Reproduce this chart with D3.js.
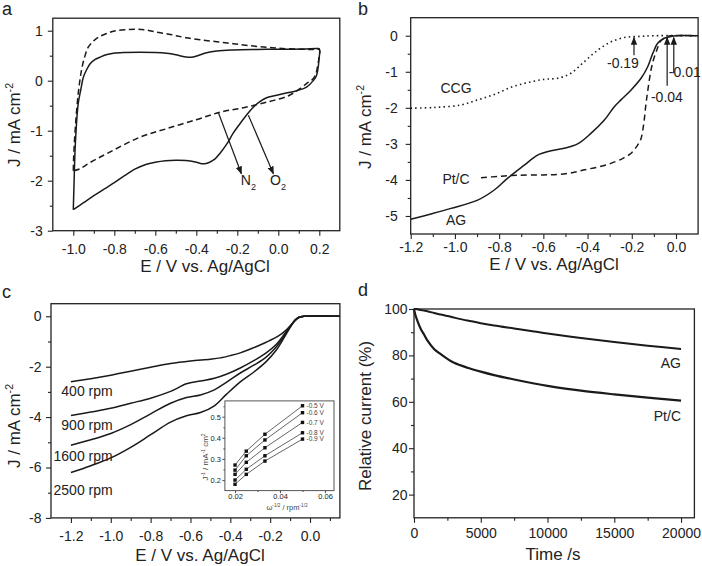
<!DOCTYPE html>
<html><head><meta charset="utf-8">
<script src="https://cdn.jsdelivr.net/npm/d3@7"></script>
<style>
body{margin:0;background:#fff}
svg{display:block}
text{font-family:"Liberation Sans",Arial,Helvetica,sans-serif;fill:#222}
</style>
</head><body>
<svg id="c" width="702" height="566"></svg>
<script>
// ---------- Panel a : cyclic voltammograms ----------
const aTicksX = [-1.0,-0.8,-0.6,-0.4,-0.2,0.0,0.2];
const aMinorX = [-0.9,-0.7,-0.5,-0.3,-0.1,0.1];
const aTicksY = [-3,-2,-1,0,1];
const aMinorY = [-2.5,-1.5,-0.5,0.5];
const cvO2 = [[-1.0,-2.58],[-0.996,-2.0],[-0.99,-1.26],[-0.976,-0.46],[-0.962,-0.15],[-0.951,0.07],[-0.935,0.22],[-0.918,0.34],[-0.895,0.42],[-0.87,0.47],[-0.84,0.52],[-0.805,0.55],[-0.75,0.565],[-0.675,0.57],[-0.6,0.565],[-0.545,0.55],[-0.5,0.52],[-0.47,0.49],[-0.44,0.47],[-0.41,0.48],[-0.38,0.52],[-0.35,0.56],[-0.3,0.595],[-0.22,0.615],[-0.1,0.625],[0.02,0.63],[0.12,0.635],[0.19,0.645],[0.2,0.64],[0.198,0.4],[0.192,0.2],[0.185,0.09],[0.17,0.0],[0.138,-0.13],[0.09,-0.2],[0.024,-0.26],[-0.02,-0.3],[-0.057,-0.34],[-0.09,-0.42],[-0.122,-0.53],[-0.15,-0.66],[-0.187,-0.86],[-0.22,-1.05],[-0.25,-1.26],[-0.284,-1.45],[-0.31,-1.57],[-0.335,-1.63],[-0.358,-1.66],[-0.38,-1.655],[-0.41,-1.62],[-0.45,-1.595],[-0.5,-1.59],[-0.55,-1.6],[-0.6,-1.63],[-0.65,-1.68],[-0.7,-1.77],[-0.75,-1.9],[-0.8,-2.04],[-0.85,-2.17],[-0.9,-2.3],[-0.95,-2.44],[-1.0,-2.58]];
const cvN2 = [[-1.0,-1.8],[-0.998,-1.5],[-0.99,-0.93],[-0.976,-0.26],[-0.96,0.21],[-0.945,0.47],[-0.927,0.67],[-0.9,0.8],[-0.878,0.87],[-0.84,0.94],[-0.805,0.99],[-0.75,1.02],[-0.69,1.03],[-0.64,1.01],[-0.593,0.97],[-0.545,0.94],[-0.5,0.9],[-0.45,0.86],[-0.382,0.82],[-0.3,0.78],[-0.22,0.74],[-0.14,0.7],[-0.057,0.67],[0.02,0.645],[0.1,0.63],[0.16,0.625],[0.2,0.62],[0.198,0.45],[0.19,0.25],[0.18,0.1],[0.165,0.02],[0.14,-0.05],[0.106,-0.16],[0.05,-0.3],[-0.057,-0.43],[-0.17,-0.54],[-0.284,-0.63],[-0.4,-0.78],[-0.545,-0.96],[-0.675,-1.13],[-0.837,-1.46],[-0.92,-1.64],[-0.967,-1.76],[-1.0,-1.8]];
const aArrows = [
  {from:[-0.293,-0.63], to:[-0.18,-1.86], label:"N", sub:"2", at:[-0.183,-2.09]},
  {from:[-0.146,-0.69], to:[-0.024,-1.86], label:"O", sub:"2", at:[-0.04,-2.09]}
];

// ---------- Panel b : LSV curves ----------
const bTicksX = [-1.2,-1.0,-0.8,-0.6,-0.4,-0.2,0.0];
const bMinorX = [-1.1,-0.9,-0.7,-0.5,-0.3,-0.1];
const bTicksY = [-5,-4,-3,-2,-1,0];
const bMinorY = [-4.5,-3.5,-2.5,-1.5,-0.5];
const lsvCCG = [[-1.2,-2.01],[-1.093,-1.99],[-0.972,-1.92],[-0.897,-1.78],[-0.822,-1.63],[-0.746,-1.43],[-0.671,-1.30],[-0.596,-1.21],[-0.535,-1.18],[-0.475,-1.04],[-0.415,-0.72],[-0.354,-0.40],[-0.294,-0.17],[-0.234,-0.05],[-0.17,-0.02],[-0.1,0],[0.1,0]];
const lsvPtC = [[-0.882,-3.94],[-0.8,-3.9],[-0.716,-3.87],[-0.6,-3.86],[-0.535,-3.85],[-0.47,-3.8],[-0.415,-3.72],[-0.35,-3.64],[-0.294,-3.54],[-0.24,-3.4],[-0.203,-3.26],[-0.175,-3.05],[-0.158,-2.85],[-0.145,-2.4],[-0.136,-1.9],[-0.125,-1.41],[-0.113,-0.95],[-0.102,-0.67],[-0.087,-0.40],[-0.072,-0.17],[-0.055,-0.07],[-0.04,-0.02],[-0.02,0],[0.1,0]];
const lsvAG = [[-1.2,-5.09],[-1.1,-4.93],[-1.018,-4.79],[-0.897,-4.56],[-0.822,-4.28],[-0.761,-3.95],[-0.686,-3.59],[-0.626,-3.31],[-0.565,-3.19],[-0.505,-3.12],[-0.445,-3.0],[-0.385,-2.71],[-0.324,-2.34],[-0.279,-1.97],[-0.249,-1.78],[-0.204,-1.51],[-0.158,-1.18],[-0.128,-0.86],[-0.105,-0.49],[-0.083,-0.21],[-0.053,-0.07],[-0.023,-0.02],[0.0,0],[0.1,0]];
const onsetE = [-0.19,-0.04,-0.01];
const onsetFromJ = [-0.54,-1.39,-1.04];
const onsetLabels = ["-0.19","-0.04","-0.01"];
const onsetLabelAt = [[-0.24,-0.9],[-0.041,-1.83],[0.04,-1.14]];
const bSeriesLabels = ["CCG","Pt/C","AG"];
const bLabelAt = [[-0.995,-1.6],[-0.995,-4.1],[-0.995,-5.25]];

// ---------- Panel c : rotating-disk LSV ----------
const cTicksX = [-1.2,-1.0,-0.8,-0.6,-0.4,-0.2,0.0];
const cMinorX = [-1.1,-0.9,-0.7,-0.5,-0.3,-0.1,0.1];
const cTicksY = [-8,-6,-4,-2,0];
const cMinorY = [-7,-5,-3,-1];
const rpm400 = [[-1.2,-2.6],[-1.1,-2.48],[-1.0,-2.34],[-0.9,-2.18],[-0.8,-2.02],[-0.7,-1.87],[-0.6,-1.77],[-0.5,-1.7],[-0.45,-1.65],[-0.4,-1.56],[-0.35,-1.45],[-0.29,-1.27],[-0.22,-1.03],[-0.16,-0.79],[-0.12,-0.55],[-0.09,-0.3],[-0.065,-0.1],[-0.045,-0.02],[-0.02,0],[0.15,0]];
const rpm900 = [[-1.2,-3.94],[-1.1,-3.8],[-1.0,-3.65],[-0.9,-3.45],[-0.8,-3.25],[-0.7,-2.98],[-0.62,-2.68],[-0.55,-2.57],[-0.48,-2.46],[-0.42,-2.3],[-0.35,-2.05],[-0.28,-1.75],[-0.22,-1.45],[-0.17,-1.12],[-0.13,-0.72],[-0.1,-0.4],[-0.075,-0.15],[-0.055,-0.04],[-0.03,0],[0.15,0]];
const rpm1600 = [[-1.2,-5.12],[-1.1,-4.9],[-1.0,-4.65],[-0.9,-4.3],[-0.8,-3.87],[-0.7,-3.45],[-0.62,-3.22],[-0.55,-3.12],[-0.48,-2.92],[-0.42,-2.62],[-0.35,-2.25],[-0.28,-1.93],[-0.22,-1.62],[-0.17,-1.22],[-0.13,-0.78],[-0.1,-0.42],[-0.075,-0.15],[-0.055,-0.04],[-0.03,0],[0.15,0]];
const rpm2500 = [[-1.2,-6.2],[-1.1,-5.93],[-1.0,-5.62],[-0.9,-5.2],[-0.8,-4.7],[-0.7,-4.2],[-0.62,-3.95],[-0.55,-3.82],[-0.48,-3.55],[-0.42,-3.1],[-0.35,-2.6],[-0.28,-2.2],[-0.22,-1.8],[-0.17,-1.35],[-0.13,-0.85],[-0.1,-0.45],[-0.075,-0.16],[-0.055,-0.04],[-0.03,0],[0.15,0]];
const rpmLabels = ["400 rpm","900 rpm","1600 rpm","2500 rpm"];
const rpmLabelJ = [-3.15,-4.53,-5.73,-7.1];
// inset: Koutecky-Levich
const klTicksX = [0.02,0.04,0.06];
const klMinorX = [0.03,0.05];
const klTicksY = [0.2,0.3,0.4,0.5];
const klMinorY = [0.25,0.35,0.45,0.55];
const klW = [0.02,0.025,0.0333,0.05];
const kl05 = [0.271,0.337,0.417,0.552];
const kl06 = [0.247,0.315,0.390,0.519];
const kl07 = [0.227,0.284,0.353,0.473];
const kl08 = [0.200,0.251,0.315,0.424];
const kl09 = [0.180,0.227,0.290,0.394];
const klLabels = ["-0.5 V","-0.6 V","-0.7 V","-0.8 V","-0.9 V"];

// ---------- Panel d : chronoamperometry ----------
const dTicksX = [0,5000,10000,15000,20000];
const dMinorX = [2500,7500,12500,17500];
const dTicksY = [20,40,60,80,100];
const dMinorY = [30,50,70,90];
const timeS = [0,100,250,500,750,1000,1500,2000,2500,3000,4000,5000,6000,7500,9000,10000,12500,15000,17500,20000];
const relPtC = [100,97.5,95,91.5,89,86.5,82.8,80.5,78.5,76.8,74.7,73,71.5,69.6,67.9,66.9,64.8,63.2,61.8,60.5];
const relAG  = [100,100,99.9,99.6,99.3,99,98.3,97.6,97,96.3,95,93.9,92.9,91.6,90.3,89.4,87.5,85.8,84.2,82.8];

// ================= drawing =================
const svg = d3.select("#c");
const FONT = '"Liberation Sans", Arial, Helvetica, sans-serif';
const INK = "#1a1a1a";

const defs = svg.append("defs");
defs.append("marker").attr("id","arr").attr("viewBox","0 0 10 10")
  .attr("refX",9).attr("refY",5).attr("markerWidth",8).attr("markerHeight",8)
  .attr("markerUnits","userSpaceOnUse").attr("orient","auto")
  .append("path").attr("d","M0,1 L10,5 L0,9 Z").attr("fill",INK);

function styleAxis(sel, fs, col){
  sel.attr("font-size",fs).attr("font-family",FONT).attr("color",col||"#222");
  sel.select(".domain").remove();
  sel.selectAll("line").attr("stroke-width",1.1);
}

function rich(parent, parts, fs){
  let shift = 0;
  parts.forEach(p=>{
    const [t,k] = p;
    const ts = parent.append("tspan").text(t);
    let target = 0, size = fs;
    if(k==="sup"){ target = -0.42*fs; size = 0.62*fs; }
    if(k==="sub"){ target = 0.32*fs; size = 0.65*fs; }
    const dy = target - shift;
    if(dy!==0) ts.attr("dy",dy);
    ts.attr("font-size",size);
    shift = target;
  });
}

function panel(o){
  const x = d3.scaleLinear().domain(o.xd).range(o.xr);
  const y = d3.scaleLinear().domain(o.yd).range(o.yr);
  const g = svg.append("g");
  const by = o.yr[0], lx = o.xr[0];
  g.append("g").attr("transform",`translate(0,${by})`)
    .call(d3.axisBottom(x).tickValues(o.xMajor).tickSize(o.tk||5).tickPadding(o.xPad).tickFormat(o.fx))
    .call(styleAxis,o.fs,o.col);
  g.append("g").attr("transform",`translate(0,${by})`)
    .call(d3.axisBottom(x).tickValues(o.xMinor).tickSize(o.tkm||3).tickFormat(()=>""))
    .call(styleAxis,o.fs,o.col);
  g.append("g").attr("transform",`translate(${lx},0)`)
    .call(d3.axisLeft(y).tickValues(o.yMajor).tickSize(o.tk||5).tickPadding(o.yPad).tickFormat(o.fy))
    .call(styleAxis,o.fs,o.col);
  g.append("g").attr("transform",`translate(${lx},0)`)
    .call(d3.axisLeft(y).tickValues(o.yMinor).tickSize(o.tkm||3).tickFormat(()=>""))
    .call(styleAxis,o.fs,o.col);
  g.append("rect").attr("x",o.xr[0]).attr("y",o.yr[1])
    .attr("width",o.xr[1]-o.xr[0]).attr("height",o.yr[0]-o.yr[1])
    .attr("fill","none").attr("stroke",o.col||"#222").attr("stroke-width",o.fw||1.3);
  return {x,y,g};
}

const f1 = d=>d.toFixed(1);
const f0 = d=>String(d);
const line = (x,y)=>d3.line().x(d=>x(d[0])).y(d=>y(d[1])).curve(d3.curveCatmullRom.alpha(0.5));

function yTitle(cx, cy, parts, fs){
  const t = svg.append("text").attr("transform",`translate(${cx},${cy}) rotate(-90)`)
    .attr("text-anchor","middle").attr("font-size",fs);
  rich(t, parts, fs);
}
function xTitle(cx, by, str, fs){
  svg.append("text").attr("x",cx).attr("y",by).attr("text-anchor","middle").attr("font-size",fs).text(str);
}
function letter(x,y,s){
  svg.append("text").attr("x",x).attr("y",y).attr("font-size",18).text(s);
}
const TF = 17;

// ---- Panel a ----
{
  const P = panel({xd:[-1.1,0.3], xr:[52.8,339.8], yd:[-3,1.25], yr:[230.7,18.2],
    xMajor:aTicksX, xMinor:aMinorX, yMajor:aTicksY, yMinor:aMinorY,
    fx:f1, fy:f0, xPad:8, yPad:5, fs:14});
  const {x,y,g} = P;
  g.append("path").attr("d",line(x,y)(cvN2)).attr("fill","none").attr("stroke",INK)
    .attr("stroke-width",1.5).attr("stroke-dasharray","6,3.5");
  g.append("path").attr("d",line(x,y)(cvO2)).attr("fill","none").attr("stroke",INK)
    .attr("stroke-width",1.5);
  aArrows.forEach(a=>{
    g.append("line").attr("x1",x(a.from[0])).attr("y1",y(a.from[1]))
      .attr("x2",x(a.to[0])).attr("y2",y(a.to[1]))
      .attr("stroke",INK).attr("stroke-width",1.2).attr("marker-end","url(#arr)");
    const t = g.append("text").attr("x",x(a.at[0])).attr("y",y(a.at[1])).attr("font-size",14);
    rich(t,[[a.label],[a.sub,"sub"]],14);
  });
  letter(2,15,"a");
  xTitle(205,271.5,"E / V vs. Ag/AgCl",TF);
  yTitle(20,125,[["J / mA cm"],["-2","sup"]],TF);
}

// ---- Panel b ----
{
  const P = panel({xd:[-1.2,0.1], xr:[410.7,698.1], yd:[-5.5,0.5], yr:[234,17.7],
    xMajor:bTicksX, xMinor:bMinorX, yMajor:bTicksY, yMinor:bMinorY,
    fx:f1, fy:f0, xPad:3, yPad:8, fs:14});
  const {x,y,g} = P;
  g.append("path").attr("d",line(x,y)(lsvCCG)).attr("fill","none").attr("stroke",INK)
    .attr("stroke-width",1.6).attr("stroke-dasharray","1.5,3.2");
  g.append("path").attr("d",line(x,y)(lsvPtC)).attr("fill","none").attr("stroke",INK)
    .attr("stroke-width",1.5).attr("stroke-dasharray","6,4");
  g.append("path").attr("d",line(x,y)(lsvAG)).attr("fill","none").attr("stroke",INK)
    .attr("stroke-width",1.5);
  onsetE.forEach((e,i)=>{
    g.append("line").attr("x1",x(e)).attr("x2",x(e)).attr("y1",y(onsetFromJ[i])).attr("y2",y(-0.05))
      .attr("stroke",INK).attr("stroke-width",1.2).attr("marker-end","url(#arr)");
    g.append("text").attr("x",x(onsetLabelAt[i][0])).attr("y",y(onsetLabelAt[i][1]))
      .attr("text-anchor","middle").attr("font-size",14).text(onsetLabels[i]);
  });
  bSeriesLabels.forEach((s,i)=>{
    g.append("text").attr("x",x(bLabelAt[i][0])).attr("y",y(bLabelAt[i][1]))
      .attr("text-anchor","middle").attr("font-size",14).text(s);
  });
  letter(358,15,"b");
  xTitle(554,270,"E / V vs. Ag/AgCl",TF);
  yTitle(371,127,[["J / mA cm"],["-2","sup"]],TF);
}

// ---- Panel c ----
{
  const P = panel({xd:[-1.3,0.15], xr:[51,339.9], yd:[-8,0.5], yr:[517.9,303.7],
    xMajor:cTicksX, xMinor:cMinorX, yMajor:cTicksY, yMinor:cMinorY,
    fx:f1, fy:f0, xPad:8, yPad:4.5, fs:14});
  const {x,y,g} = P;
  [rpm400,rpm900,rpm1600,rpm2500].forEach(s=>{
    g.append("path").attr("d",line(x,y)(s)).attr("fill","none").attr("stroke",INK).attr("stroke-width",1.5);
  });
  rpmLabels.forEach((s,i)=>{
    g.append("text").attr("x",112.7).attr("y",y(rpmLabelJ[i])).attr("text-anchor","end")
      .attr("font-size",14).text(s);
  });
  // inset
  svg.append("rect").attr("x",224.9).attr("y",400.9).attr("width",109.1).attr("height",89.7).attr("fill","#fff");
  const I = panel({xd:[0.0155,0.064], xr:[224.9,334], yd:[0.15,0.575], yr:[490.6,400.9],
    xMajor:klTicksX, xMinor:klMinorX, yMajor:klTicksY, yMinor:klMinorY,
    fx:d=>d.toFixed(2), fy:f1, xPad:0.5, yPad:1.5, fs:7.5, col:"#555", tk:2.5, tkm:1.5, fw:1});
  const ix = I.x, iy = I.y, ig = I.g;
  [kl05,kl06,kl07,kl08,kl09].forEach((s,i)=>{
    const pts = klW.map((w,j)=>[w,s[j]]);
    ig.append("path").attr("d",d3.line().x(d=>ix(d[0])).y(d=>iy(d[1]))(pts))
      .attr("fill","none").attr("stroke","#666").attr("stroke-width",1);
    ig.selectAll(null).data(pts).enter().append("rect")
      .attr("x",d=>ix(d[0])-1.7).attr("y",d=>iy(d[1])-1.7).attr("width",3.4).attr("height",3.4)
      .attr("fill","#111");
    ig.append("text").attr("x",ix(0.05)+4).attr("y",iy(s[3])+2.3).attr("font-size",6.5)
      .style("fill","#444").text(klLabels[i]);
  });
  const it = svg.append("text").attr("x",287).attr("y",510).attr("text-anchor","middle")
    .attr("font-size",7.5).style("fill","#444");
  rich(it,[["ω"],["-1/2","sup"],[" / rpm"],["-1/2","sup"]],7.5);
  const iyt = svg.append("text").attr("transform","translate(208,457) rotate(-90)")
    .attr("text-anchor","middle").attr("font-size",8).style("fill","#444");
  rich(iyt,[["J"],["-1","sup"],[" / mA"],["-1","sup"],[" cm"],["2","sup"]],8);

  letter(2,298,"c");
  xTitle(200,561,"E / V vs. Ag/AgCl",TF);
  yTitle(20,426,[["J / mA cm"],["-2","sup"]],TF);
}

// ---- Panel d ----
{
  const P = panel({xd:[0,21000], xr:[414,694.4], yd:[10,100], yr:[517.8,309],
    xMajor:dTicksX, xMinor:dMinorX, yMajor:dTicksY, yMinor:dMinorY,
    fx:f0, fy:f0, xPad:5.5, yPad:1.5, fs:14});
  const {x,y,g} = P;
  const ln = d3.line().x((d,i)=>x(timeS[i])).y(d=>y(d)).curve(d3.curveCatmullRom.alpha(0.5));
  g.append("path").attr("d",ln(relAG)).attr("fill","none").attr("stroke",INK).attr("stroke-width",2);
  g.append("path").attr("d",ln(relPtC)).attr("fill","none").attr("stroke",INK).attr("stroke-width",2.2);
  g.append("text").attr("x",681).attr("y",368).attr("text-anchor","end").attr("font-size",14).text("AG");
  g.append("text").attr("x",681).attr("y",421.3).attr("text-anchor","end").attr("font-size",14).text("Pt/C");
  letter(358,296,"d");
  xTitle(553,559.5,"Time /s",TF);
  yTitle(371,416,[["Relative current (%)"]],TF);
}
</script>
</body></html>
